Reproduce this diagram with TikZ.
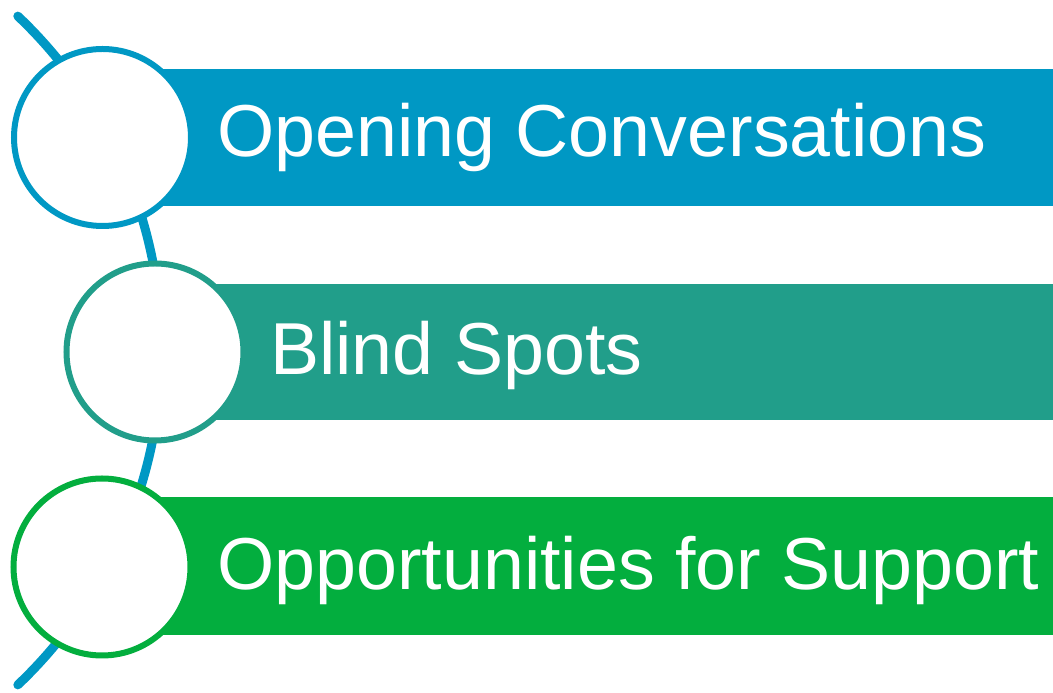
\documentclass[tikz,border=0pt]{standalone}
\usepackage{fontspec}
\setmainfont{Liberation Sans}
\definecolor{cblue}{RGB}{0,152,196}
\definecolor{cteal}{RGB}{33,158,138}
\definecolor{cgreen}{RGB}{3,174,62}
\tikzset{
  bar/.style={fill=#1, draw=none},
  ring/.style={circle, draw=#1, line width=6pt, fill=white, minimum size=177pt, inner sep=0pt},
  label/.style={anchor=base west, inner sep=0pt, text=white, font=\fontsize{73.6}{88}\selectfont},
}
\begin{document}
\begin{tikzpicture}[x=1pt,y=1pt]
\useasboundingbox (0,0) rectangle (1053,693);
% spine arc
\coordinate (arccenter) at (-299.5,342.5);
\draw[cblue, line width=9pt, line cap=round] ([shift={(46.5:461pt)}]arccenter) arc[start angle=46.5, end angle=-46.5, radius=461pt];
% bars
\fill[bar=cblue] (102.5,487) rectangle (1053,624);
\fill[bar=cteal] (155,273) rectangle (1053,409);
\fill[bar=cgreen] (102,58) rectangle (1053,196);
% circles
\node[ring=cblue] (c1) at (102.5,555.5) {};
\node[ring=cteal] (c2) at (155,341) {};
\node[ring=cgreen] (c3) at (102,126) {};
% labels
\node[label] (t1) at (217,536) {Opening Conversations};
\node[label] (t2) at (270,318) {Blind Spots};
\node[label] (t3) at (217,103) {Opportunities for Support};
\end{tikzpicture}
\end{document}
